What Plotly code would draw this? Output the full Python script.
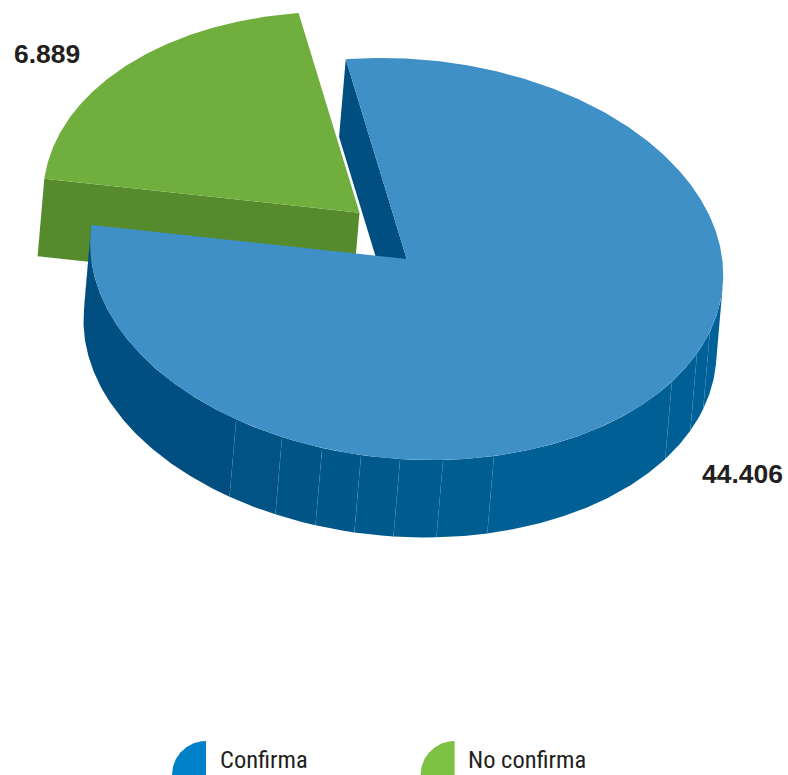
import numpy as np
import plotly.graph_objects as go

# --- data ---
categories = ["Confirma", "No confirma"]
values = [44406, 6889]
value_labels = ["44.406", "6.889"]
# The reference does not draw its slices in proportion to the printed values;
# these are the shares of the circle.
drawn_share_pct = [79.53, 20.47]
blue_seams_deg = [106.7, 113.5, 123.1, 164.0, 173.4, 181.2, 188.3, 195.5, 203.2, 212.6]
wall_shades = ["#00619a", "#006098", "#006096", "#005f94", "#005d92", "#005b90",
               "#00598d", "#00578a", "#005587", "#005384", "#004f80", "#004f80"]

# --- styles / projection ---
W, H = 788, 775
CX, CY = 406.7, 259.0
A = np.array([[316.5, 0.0], [15.8, 200.4]])   # tilted circle -> ellipse
DEPTH = np.array([-6.7, 77.4])
EXPLODE = np.array([-47.2, -46.3])
START_DEG = -11.1
TOP = {"Confirma": "#3e90c6", "No confirma": "#70ae3d"}
WALL_DARK = "#004f80"
WALL_BASE = "#4a94c4"
GREEN_WALL = "#568b2d"
INK = "#231f20"
LEGEND_FONT = '"Roboto Condensed", "Open Sans Condensed", "Noto Sans Condensed", "Liberation Sans", sans-serif'


def project(theta_deg, origin):
    t = np.radians(np.asarray(theta_deg, dtype=float))
    uv = np.vstack([np.sin(t), -np.cos(t)])
    return (A @ uv).T + origin


def arc(a, b, origin):
    n = max(2, int(abs(b - a) * 2))
    return project(np.linspace(a, b, n), origin)


fig = go.Figure()


def poly(points, color):
    p = np.asarray(points)
    fig.add_trace(go.Scatter(x=p[:, 0], y=p[:, 1], mode="lines", fill="toself",
                             fillcolor=color, line=dict(width=0), hoverinfo="skip",
                             showlegend=False))


origin = np.array([CX, CY])
sweep = [s / sum(drawn_share_pct) * 360 for s in drawn_share_pct]
blue_a, blue_b = START_DEG, START_DEG + sweep[0]
green_a, green_b = blue_b - 360, blue_b - 360 + sweep[1]

# where the wall's silhouette leaves the top ellipse
tangent = np.degrees(np.arctan2(A[0, 0] * DEPTH[1] - A[1, 0] * DEPTH[0], A[1, 1] * DEPTH[0])) % 180
tan_r, tan_l = tangent, tangent + 180

# green slice (pulled out)
g_origin = origin + EXPLODE
g_left = project([green_a], g_origin)[0]
poly([g_left, g_origin, g_origin + DEPTH, g_left + DEPTH], GREEN_WALL)
poly(np.vstack([[g_origin], arc(green_a, green_b, g_origin)]), TOP["No confirma"])

# blue inner wall
b_start = project([blue_a], origin)[0]
poly([b_start, origin, origin + DEPTH, b_start + DEPTH], WALL_DARK)

# blue outer wall: facets whose joints are only faintly visible
edges = [tan_r] + blue_seams_deg + [tan_l, blue_b]
for (a, b), col in zip(zip(edges[:-1], edges[1:]), wall_shades):
    top = arc(a, b, origin)
    poly(np.vstack([top, top[::-1] + DEPTH]), col)
    # a hairline on the facet's left joint
    seam = np.array([top[-1], top[-1] + DEPTH])
    if tan_r < b < tan_l:
        fig.add_trace(go.Scatter(x=seam[:, 0], y=seam[:, 1], mode="lines",
                                 line=dict(width=0.6, color="rgba(120,175,210,0.35)"),
                                 hoverinfo="skip", showlegend=False))

# blue top
poly(np.vstack([[origin], arc(blue_a, blue_b, origin)]), TOP["Confirma"])

# legend wedges
legend_wedges = [(206.0, "#0080c6"), (454.6, "#7dc242")]
for x0, col in legend_wedges:
    t = np.radians(np.linspace(180, 270, 60))
    poly(np.vstack([[x0, 775.0], np.c_[x0 + 34 * np.cos(t), 775.0 + 34 * np.sin(t)]]), col)

annotations = [
    dict(x=14, y=54, text="<b>" + value_labels[1] + "</b>",
         font=dict(family="Liberation Sans", size=26.5, color=INK)),
    dict(x=702, y=474, text="<b>" + value_labels[0] + "</b>",
         font=dict(family="Liberation Sans", size=26.5, color=INK)),
]
for x0, name in zip([220, 468], categories):
    annotations.append(dict(x=x0, y=759, text=name,
                            font=dict(family=LEGEND_FONT, size=24.5, color=INK)))
for a in annotations:
    a.update(xref="x", yref="y", xanchor="left", yanchor="middle", showarrow=False,
             borderpad=0, borderwidth=0)

fig.update_layout(
    width=W, height=H, autosize=False,
    margin=dict(l=0, r=0, t=0, b=0),
    paper_bgcolor="white", plot_bgcolor="white",
    xaxis=dict(range=[0, W], visible=False, fixedrange=True),
    yaxis=dict(range=[H, 0], visible=False, fixedrange=True),
    showlegend=False,
    annotations=annotations,
)
fig.write_html("out.html", config={"displayModeBar": False},
               post_script="document.body.style.margin='0';document.documentElement.style.overflow='hidden';")
